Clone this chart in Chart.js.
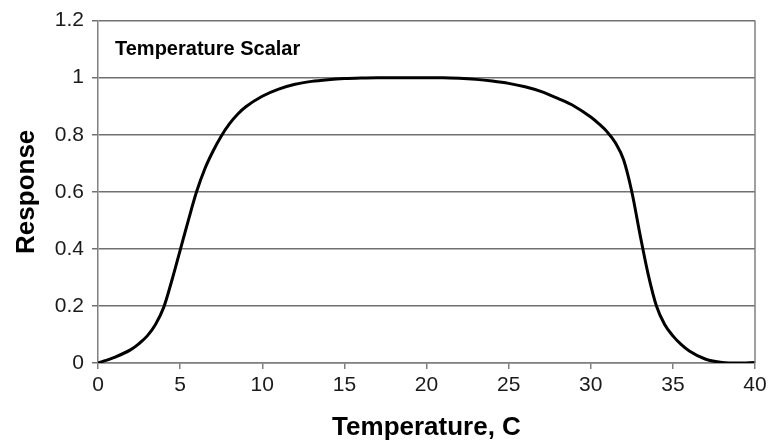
<!DOCTYPE html>
<html>
<head>
<meta charset="utf-8">
<script src="https://cdn.jsdelivr.net/npm/chart.js@4"></script>
<style>
  html, body { margin: 0; padding: 0; background: #fff; }
  #wrap { width: 772px; height: 443px; }
</style>
</head>
<body>
<div id="wrap"><canvas id="grafico" width="772" height="443"></canvas></div>
<script>
const temperatura = [0, 1, 2, 2.5, 3, 3.5, 4, 4.5, 5, 5.5, 6, 6.5, 7, 7.5, 8, 8.5, 9, 10, 11, 12, 13, 14, 15, 16, 17, 18, 19, 20,
  21, 22, 23, 24, 25, 26, 27, 28, 29, 30, 30.5, 31, 31.5, 32, 32.5, 33, 33.5, 34, 34.5, 35, 35.5, 36, 37, 38, 39, 40];
const respuesta = [0, 0.02, 0.047, 0.068, 0.095, 0.135, 0.195, 0.29, 0.395, 0.5, 0.6, 0.68, 0.742, 0.795, 0.838, 0.872, 0.898, 0.935, 0.96, 0.977, 0.987, 0.993, 0.997, 0.999, 1, 1, 1, 1,
  1, 0.998, 0.994, 0.988, 0.98, 0.968, 0.951, 0.927, 0.9, 0.862, 0.838, 0.81, 0.772, 0.712, 0.6, 0.45, 0.31, 0.2, 0.135, 0.095, 0.065, 0.042, 0.013, 0.002, 0, 0.002];
const ticksX = [0, 5, 10, 15, 20, 25, 30, 35, 40];
const ticksY = [0, 0.2, 0.4, 0.6, 0.8, 1, 1.2];
const titulo = 'Temperature Scalar';

const puntos = temperatura.map((t, i) => ({ x: t, y: respuesta[i] }));
const fuente = "'Liberation Sans', Arial, sans-serif";

// texto del título dentro del área y borde derecho
const pluginExtra = {
  id: 'extra',
  afterDraw(chart) {
    const { ctx, chartArea } = chart;
    ctx.save();
    ctx.strokeStyle = '#808080';
    ctx.lineWidth = 1.5;
    ctx.beginPath();
    ctx.moveTo(chartArea.right, chartArea.top);
    ctx.lineTo(chartArea.right, chartArea.bottom);
    ctx.stroke();
    ctx.fillStyle = '#000';
    ctx.font = 'bold 20px ' + fuente;
    ctx.textBaseline = 'middle';
    ctx.fillText(titulo, chartArea.left + 17, chartArea.top + 29);
    ctx.restore();
  }
};

new Chart(document.getElementById('grafico'), {
  type: 'line',
  data: {
    datasets: [{
      data: puntos,
      borderColor: '#000',
      borderWidth: 3,
      pointRadius: 0,
      fill: false,
      cubicInterpolationMode: 'monotone'
    }]
  },
  options: {
    responsive: false,
    animation: false,
    layout: { padding: { top: 18, right: 17, left: 0, bottom: 0 } },
    plugins: { legend: { display: false }, tooltip: { enabled: false } },
    scales: {
      x: {
        type: 'linear',
        min: 0, max: 40,
        afterBuildTicks: s => { s.ticks = ticksX.map(v => ({ value: v })); },
        afterFit: s => { s.height = 80; },
        grid: { drawOnChartArea: false, drawTicks: true, tickLength: 6, color: '#808080', lineWidth: 1.5 },
        border: { color: '#808080', width: 1.5 },
        ticks: { color: '#1a1a1a', font: { family: fuente, size: 21 }, padding: 4, maxRotation: 0 },
        title: { display: true, text: 'Temperature, C', color: '#000', font: { family: fuente, size: 26, weight: 'bold' }, padding: { top: 2, bottom: 0 } }
      },
      y: {
        min: 0, max: 1.2,
        afterBuildTicks: s => { s.ticks = ticksY.map(v => ({ value: v })); },
        afterFit: s => { s.width = 98; },
        grid: { color: '#707070', lineWidth: 1.5, tickLength: 6 },
        border: { color: '#808080', width: 1.5 },
        ticks: { color: '#1a1a1a', font: { family: fuente, size: 21 }, padding: 8, callback: v => String(Math.round(v * 10) / 10) },
        title: { display: true, text: 'Response', color: '#000', font: { family: fuente, size: 26, weight: 'bold' }, padding: { top: 11, bottom: 0 } }
      }
    }
  },
  plugins: [pluginExtra]
});
</script>
</body>
</html>
